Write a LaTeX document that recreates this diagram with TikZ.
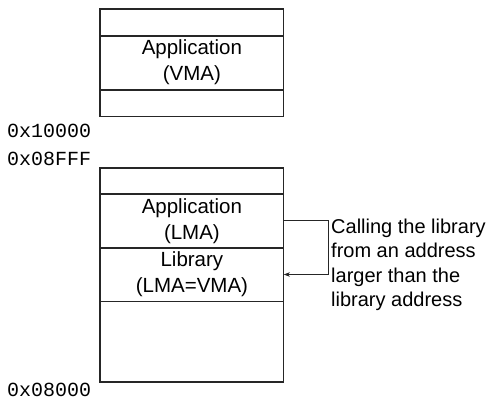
\documentclass[tikz,border=0pt]{standalone}
\usepackage{fontspec}
\setmainfont{Liberation Sans}
\setmonofont{Liberation Mono}
\usetikzlibrary{positioning, arrows.meta}

\begin{document}
\begin{tikzpicture}[
    x=1pt, y=1pt,
    >=Stealth,
    seg/.style={rectangle, draw=black!85, line width=0.8pt, align=center,
        minimum width=183pt, inner sep=0pt,
        font=\fontsize{20.5}{26}\selectfont},
    addr/.style={anchor=west, inner sep=0pt, font=\ttfamily\fontsize{20}{24}\selectfont},
    note/.style={anchor=west, inner sep=0pt, align=left,
        font=\fontsize{20}{24.5}\selectfont},
]
\useasboundingbox (0,0) rectangle (489,403);

% ---- Upper region (VMA) ----
\node[seg, minimum height=26pt, anchor=north west] (topA) at (100,394) {};
\node[seg, minimum height=53pt, below=0pt of topA] (topB) {Application\\(VMA)};
\node[seg, minimum height=26pt, below=0pt of topB] (topC) {};

% ---- Lower region (LMA) ----
\node[seg, minimum height=25pt, anchor=north west] (botA) at (100,235) {};
\node[seg, minimum height=53pt, below=0pt of botA] (botB) {Application\\(LMA)};
\node[seg, minimum height=53pt, below=0pt of botB] (botC) {Library\\(LMA=VMA)};
\node[seg, minimum height=80pt, below=0pt of botC] (botD) {};

% ---- Outer borders ----
\draw[line width=1.2pt, black!85] (topA.north west) rectangle (topC.south east);
\draw[line width=1.2pt, black!85] (botA.north west) rectangle (botD.south east);

% ---- Addresses ----
\node[addr] (a10000) at (7,272) {0x10000};
\node[addr] (a08fff) at (7,244) {0x08FFF};
\node[addr] (a08000) at (7,13) {0x08000};

% ---- Call from application to library ----
\node[note] (call) at (331,138)
    {Calling the library\\from an address\\larger than the\\library address};
\draw[->, line width=0.7pt, black!85] (botB.east) -- ++(45,0) |- (botC.east);

\end{tikzpicture}
\end{document}
